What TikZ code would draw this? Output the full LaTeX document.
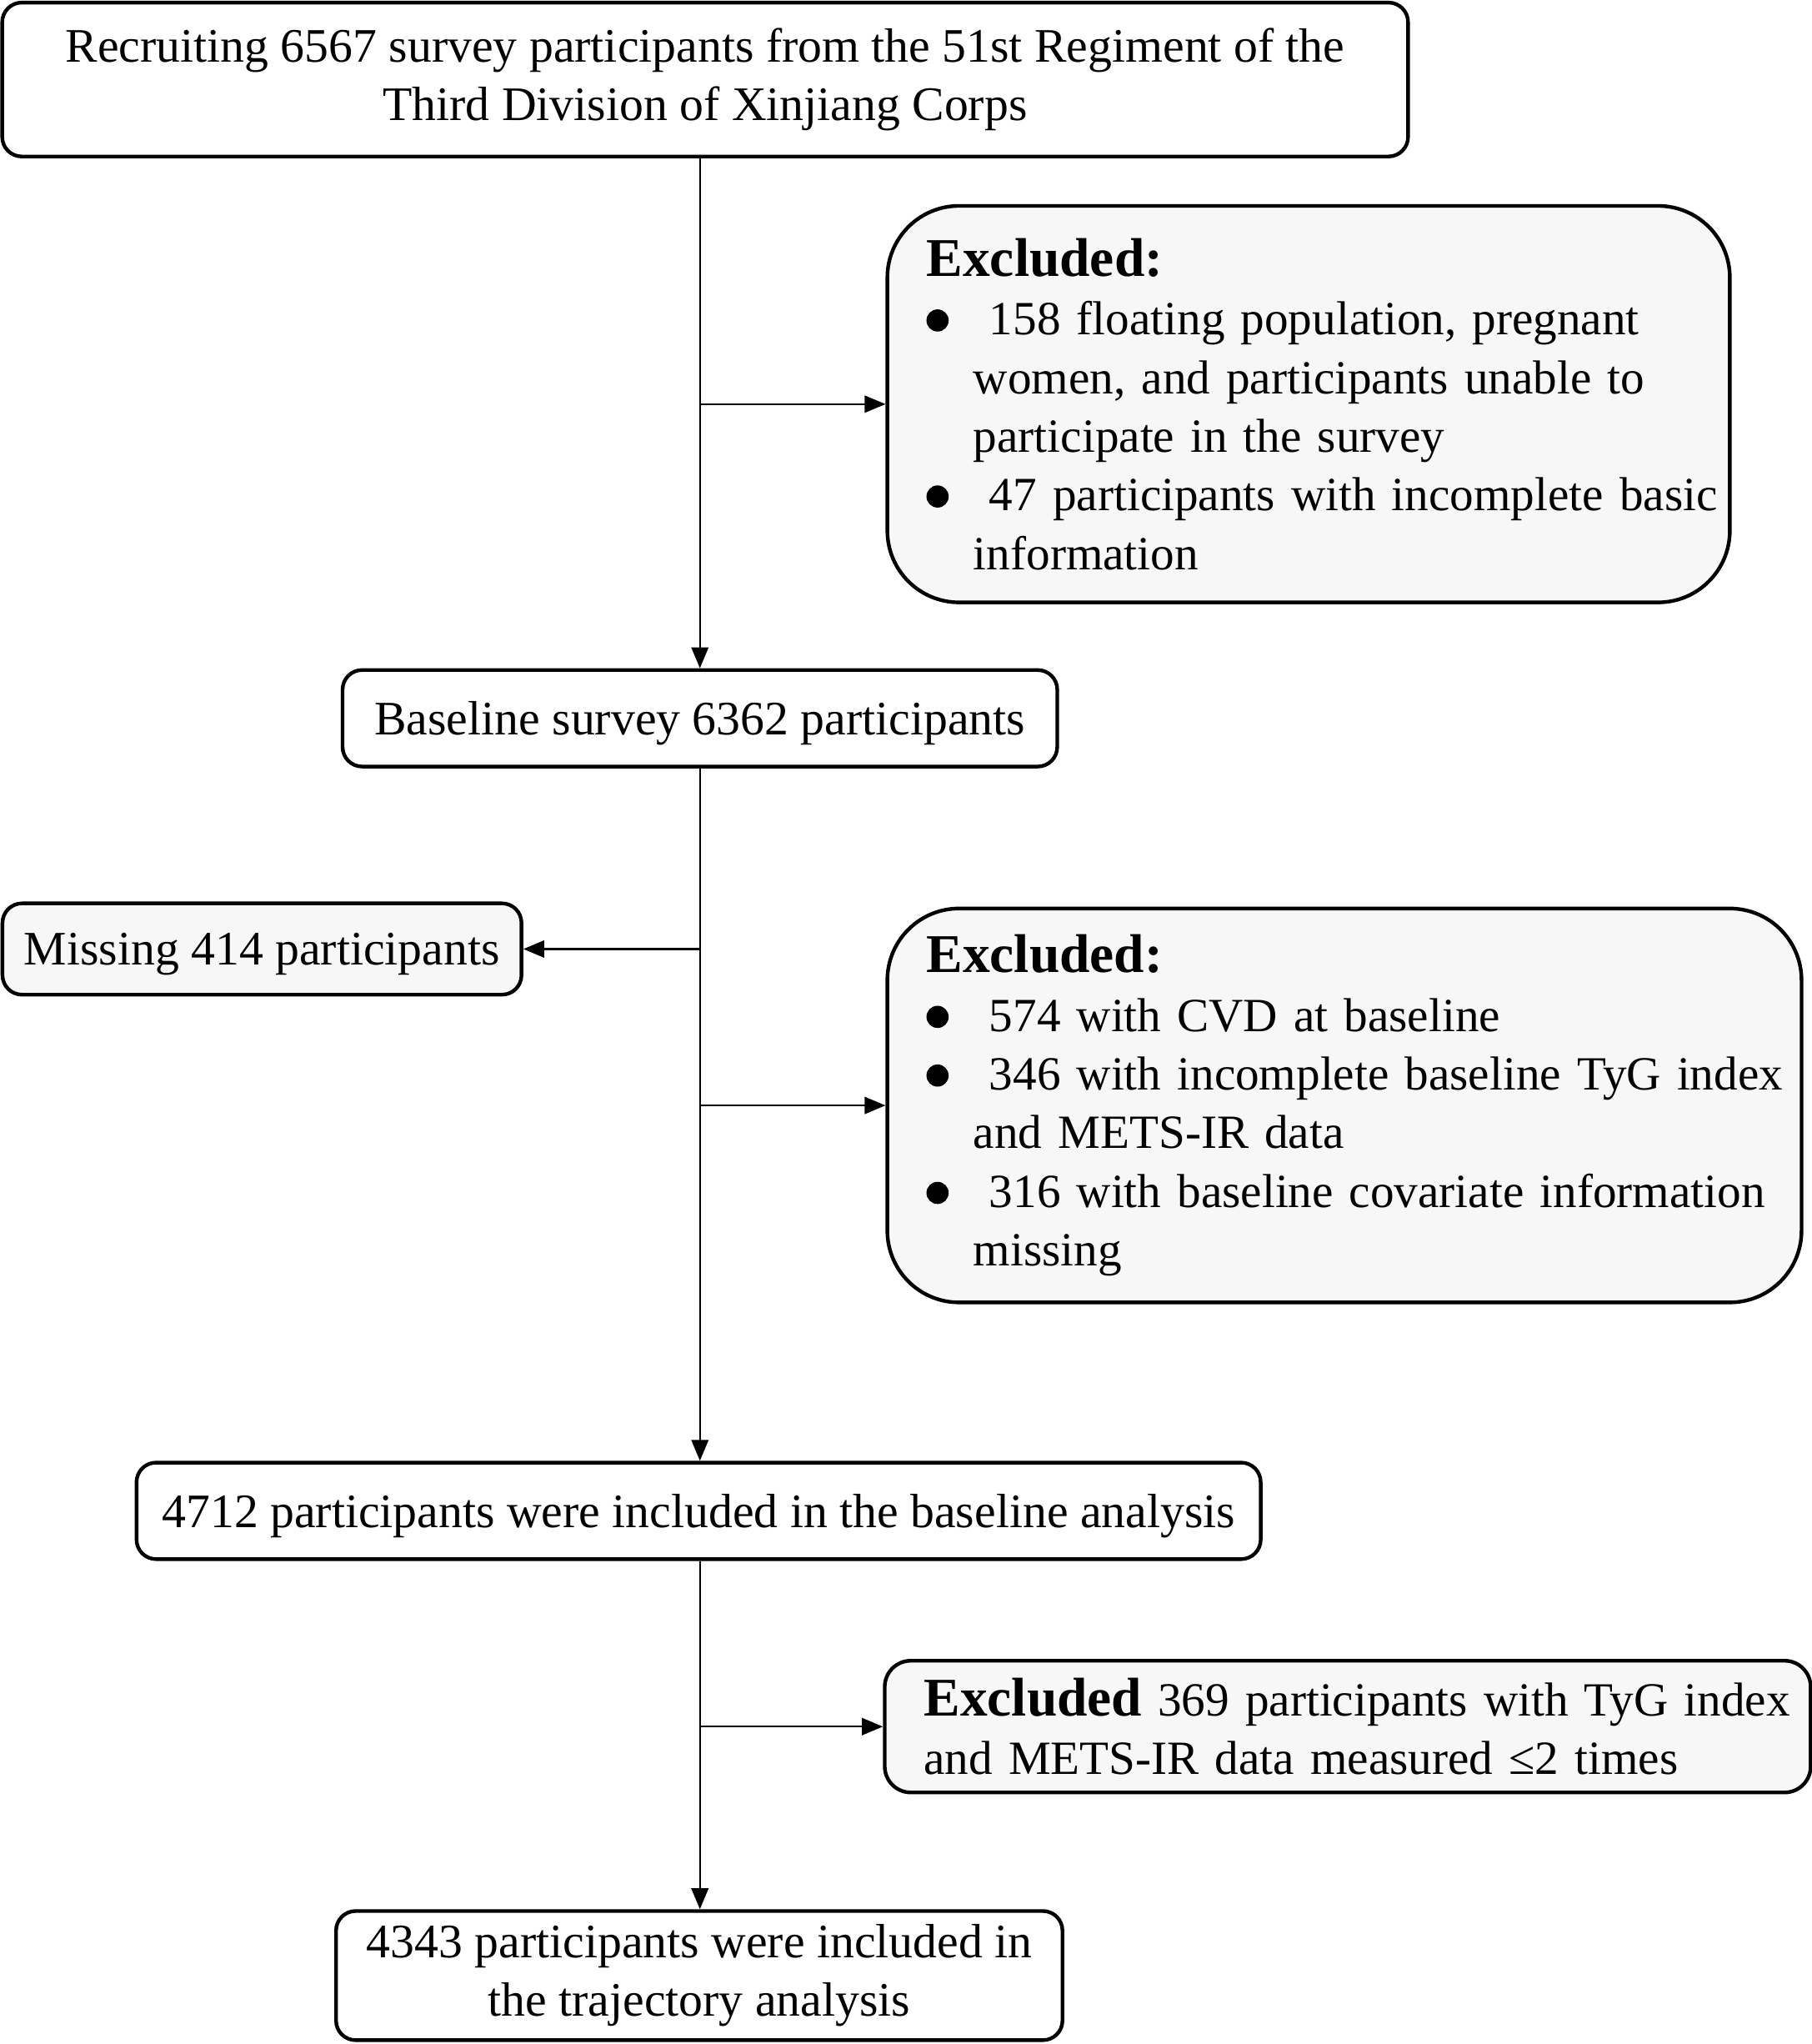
\documentclass[tikz,border=0pt]{standalone}
\usepackage{fontspec}
\setmainfont{Liberation Serif}
\usepackage{tikz}
\usetikzlibrary{arrows.meta, positioning}
\tikzset{>={Triangle[length=0.16cm,width=0.13cm]}}
\tikzset{
  box/.style={draw, line width=0.8pt, rounded corners=0.15cm, align=center, inner sep=0pt,
    font=\fontsize{10.5}{12.8}\selectfont},
  oneline/.style={text depth=0pt},
  greybox/.style={box, fill=black!3},
  exclbox/.style={greybox, rounded corners=0.55cm, align=left, inner xsep=0pt,
    font=\fontsize{10.4}{12.8}\selectfont, execute at begin node={\leftskip=0.3cm}},
  flow/.style={line width=0.45pt}
}
\newcommand{\bul}{\makebox[0.36cm][l]{\raisebox{0.025cm}{\tikz\fill (0,0) circle (0.085cm);}}}
\newcommand{\excl}[1]{{\fontsize{11.9}{12.8}\selectfont\bfseries #1}}

\begin{document}
\begin{tikzpicture}[x=0.01cm, y=-0.01cm]
  \useasboundingbox (0,0) rectangle (1390,1568);
  % boxes
  \node [box, minimum width=10.78cm, minimum height=1.18cm] (recruit) at (541,61)
    {Recruiting 6567 survey participants from the 51st Regiment of the\\ Third Division of Xinjiang Corps};
  \node [exclbox, minimum width=6.46cm, minimum height=3.04cm, text width=6.46cm] (excl1) at (1004,310)
    {\excl{Excluded:}\\
     \bul\ 158 floating population, pregnant\\
     \hspace*{0.36cm}women, and participants unable to\\
     \hspace*{0.36cm}participate in the survey\\
     \bul\ 47 participants with incomplete basic\\
     \hspace*{0.36cm}information};
  \node [box, oneline, minimum width=5.48cm, minimum height=0.74cm] (baseline) at (537,551)
    {Baseline survey 6362 participants};
  \node [greybox, oneline, minimum width=3.98cm, minimum height=0.70cm] (missing) at (201,728)
    {Missing 414 participants};
  \node [exclbox, minimum width=7.01cm, minimum height=3.02cm, text width=7.01cm] (excl2) at (1031.5,848)
    {\excl{Excluded:}\\
     \bul\ 574 with CVD at baseline\\
     \bul\ 346 with incomplete baseline TyG index\\
     \hspace*{0.36cm}and METS-IR data\\
     \bul\ 316 with baseline covariate information\\
     \hspace*{0.36cm}missing};
  \node [box, oneline, minimum width=8.62cm, minimum height=0.74cm] (included) at (536,1159)
    {4712 participants were included in the baseline analysis};
  \node [exclbox, rounded corners=0.2cm, minimum width=7.10cm, minimum height=1.01cm, text width=7.10cm] (excl3) at (1034,1324.5)
    {\excl{Excluded} 369 participants with TyG index\\ and METS-IR data measured ≤2 times};
  \node [box, minimum width=5.57cm, minimum height=0.99cm] (trajectory) at (536.5,1515.5)
    {4343 participants were included in\\ the trajectory analysis};
  % connectors
  \draw [flow,->] (baseline.north |- recruit.south) -- (baseline.north);
  \draw [flow,->] (baseline.north |- excl1.west) -- (excl1.west);
  \draw [flow,->] (baseline.south) -- (included.north -| baseline.south);
  \draw [flow,->] (baseline.south |- missing.east) -- (missing.east);
  \draw [flow,->] (baseline.south |- excl2.west) -- (excl2.west);
  \draw [flow,->] (included.south -| baseline.south) -- (trajectory.north -| baseline.south);
  \draw [flow,->] (baseline.south |- excl3.west) -- (excl3.west);
\end{tikzpicture}
\end{document}
